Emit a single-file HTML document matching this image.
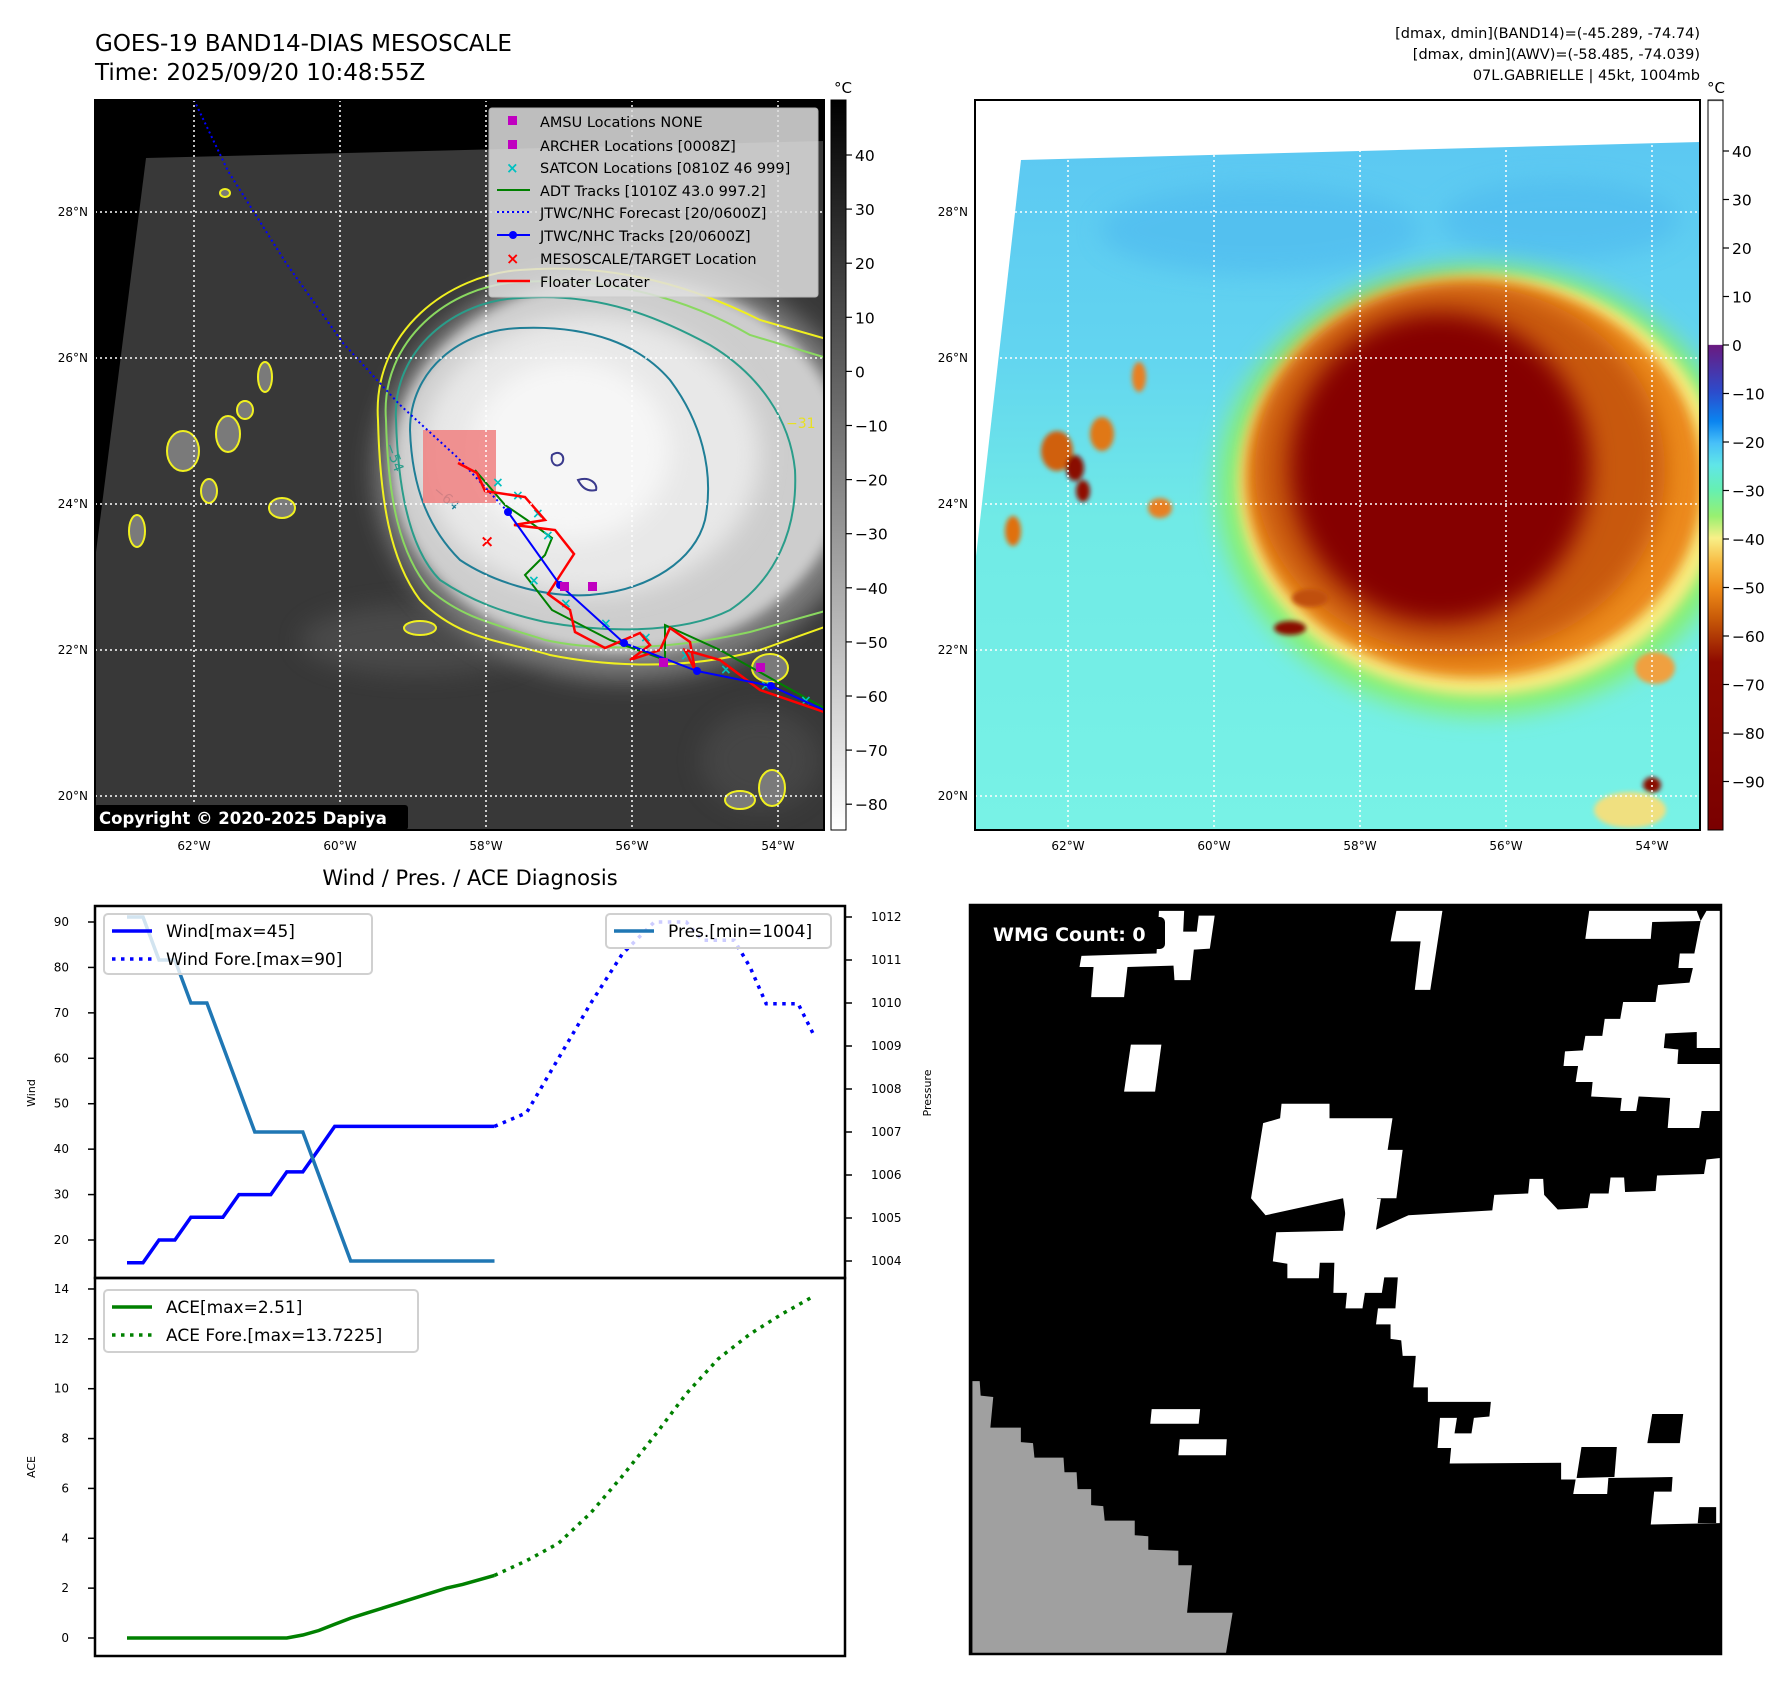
<!DOCTYPE html>
<html><head><meta charset="utf-8"><title>GOES-19 Band14 Diagnosis</title>
<style>
html,body{margin:0;padding:0;background:#fff;}
body{width:1788px;height:1690px;position:relative;overflow:hidden;font-family:"DejaVu Sans","Liberation Sans",sans-serif;}
svg text{font-family:"DejaVu Sans","Liberation Sans",sans-serif;}
</style></head>
<body>
<svg id="page" width="1788" height="1690" viewBox="0 0 1788 1690" xmlns="http://www.w3.org/2000/svg" style="position:absolute;left:0;top:0">
<defs>
<filter id="b6" x="-20%" y="-20%" width="140%" height="140%"><feGaussianBlur stdDeviation="6"/></filter>
<filter id="b12" x="-30%" y="-30%" width="160%" height="160%"><feGaussianBlur stdDeviation="12"/></filter>
<filter id="b3"><feGaussianBlur stdDeviation="2.5"/></filter>
<clipPath id="clipL"><rect x="95" y="100" width="729" height="730"/></clipPath>
<clipPath id="clipR"><rect x="975" y="100" width="725" height="730"/></clipPath>
<linearGradient id="gcbL" x1="0" y1="0" x2="0" y2="1"><stop offset="0" stop-color="#000"/><stop offset="1" stop-color="#fff"/></linearGradient>
<linearGradient id="gcbR" x1="0" y1="0" x2="0" y2="1">
<stop offset="0" stop-color="#000"/><stop offset="0.002" stop-color="#fff"/><stop offset="0.335" stop-color="#fff"/>
<stop offset="0.336" stop-color="#6a1a80"/><stop offset="0.40" stop-color="#2c4ccc"/><stop offset="0.44" stop-color="#0a84f0"/>
<stop offset="0.47" stop-color="#48c0f8"/><stop offset="0.50" stop-color="#60e6e8"/><stop offset="0.535" stop-color="#66f0b0"/>
<stop offset="0.57" stop-color="#98f070"/><stop offset="0.60" stop-color="#f8f088"/><stop offset="0.635" stop-color="#f8b840"/>
<stop offset="0.67" stop-color="#ee8a18"/><stop offset="0.71" stop-color="#c85a08"/><stop offset="0.77" stop-color="#8e0a00"/><stop offset="1" stop-color="#7a0000"/>
</linearGradient>
<linearGradient id="gSea" x1="0" y1="0" x2="0" y2="1"><stop offset="0" stop-color="#5cc8f2"/><stop offset="0.3" stop-color="#62d4f0"/><stop offset="0.55" stop-color="#70eae6"/><stop offset="1" stop-color="#78f2e6"/></linearGradient>
</defs>

<text x="95" y="51" font-size="23">GOES-19 BAND14-DIAS MESOSCALE</text>
<text x="95" y="80" font-size="23">Time: 2025/09/20 10:48:55Z</text>
<g font-size="14.5" text-anchor="end">
<text x="1700" y="38">[dmax, dmin](BAND14)=(-45.289, -74.74)</text>
<text x="1700" y="59">[dmax, dmin](AWV)=(-58.485, -74.039)</text>
<text x="1700" y="80">07L.GABRIELLE | 45kt, 1004mb</text>
</g>

<!-- LEFT MAP -->
<g>
<rect x="95" y="100" width="729" height="730" fill="#000"/>
<g clip-path="url(#clipL)">
<polygon points="146,158 824,141 824,830 95,830 95,560" fill="#383838"/>
<g filter="url(#b12)" opacity="0.45">
<ellipse cx="420" cy="640" rx="120" ry="35" fill="#5e5e5e"/>
<ellipse cx="760" cy="760" rx="60" ry="50" fill="#555"/>
</g>
<ellipse cx="625" cy="470" rx="250" ry="210" fill="#7a7a7a" filter="url(#b12)"/>
<ellipse cx="620" cy="465" rx="228" ry="188" fill="#cdcdcd" filter="url(#b6)"/>
<ellipse cx="590" cy="455" rx="170" ry="140" fill="#e8e8e8" filter="url(#b12)"/>
<ellipse cx="570" cy="450" rx="100" ry="90" fill="#f6f6f6" filter="url(#b12)"/>
<g fill="none" stroke-width="2">
<path d="M378,420 C372,330 450,275 520,270 C620,262 700,290 760,320 L900,360 L900,600 L760,650 C680,672 600,665 550,655 C500,640 460,640 420,600 C390,560 380,500 378,420Z" stroke="#f0f020"/>
<path d="M386,420 C380,340 450,285 520,282 C610,276 690,300 750,335 L900,380 L900,590 L750,632 C660,652 590,650 545,640 C500,625 465,620 430,590 C400,555 388,500 386,420Z" stroke="#8ad860"/>
<path d="M396,420 C392,350 455,300 520,298 C600,292 660,318 710,345 C760,375 790,420 795,470 C798,530 775,580 730,610 C680,635 600,632 545,622 C500,612 470,600 440,580 C410,550 398,490 396,420Z" stroke="#2a9d8a"/>
<path d="M410,430 C410,370 460,330 520,328 C590,325 640,345 670,380 C700,420 715,470 705,520 C695,560 650,590 590,595 C540,598 490,580 460,560 C430,530 412,490 410,430Z" stroke="#1f7e96"/>
<path d="M552,455 c8,-6 14,2 10,8 c-6,6 -12,0 -10,-8z M578,480 c12,-4 20,4 18,10 c-8,2 -14,-2 -18,-10z" stroke="#3a3a8c"/>
</g>
<g fill="#7a7a7a" stroke="#f0f020" stroke-width="2">
<ellipse cx="183" cy="451" rx="16" ry="20"/><ellipse cx="228" cy="434" rx="12" ry="18"/><ellipse cx="209" cy="491" rx="8" ry="12"/>
<ellipse cx="265" cy="377" rx="7" ry="15"/><ellipse cx="282" cy="508" rx="13" ry="10"/><ellipse cx="137" cy="531" rx="8" ry="16"/>
<ellipse cx="245" cy="410" rx="8" ry="9"/><ellipse cx="420" cy="628" rx="16" ry="7"/><ellipse cx="770" cy="668" rx="18" ry="14"/>
<ellipse cx="772" cy="788" rx="13" ry="18"/><ellipse cx="740" cy="800" rx="15" ry="9"/><ellipse cx="225" cy="193" rx="5" ry="4"/>
</g>
<g font-size="14" fill="#2a9d8a"><text x="385" y="445" transform="rotate(70 385 445)">−54</text><text x="432" y="492" transform="rotate(40 432 492)" fill="#1f7e96">−64</text></g>
<text x="786" y="428" font-size="14" fill="#e8e020">−31</text>
<rect x="423" y="430" width="73" height="73" fill="#f08080" opacity="0.85"/>
<polyline points="194,100 228,171 286,263 343,343 400,405 457,457 508,512" fill="none" stroke="#0000ff" stroke-width="2" stroke-dasharray="2 3"/>
<polyline points="475,470 505,505 527,520 552,538 545,555 525,575 552,610 610,640 665,660 665,625 720,650 824,708" fill="none" stroke="#008000" stroke-width="2"/>
<g fill="#00c0c0" font-size="14" font-weight="bold">
<text x="492" y="487">×</text><text x="512" y="500">×</text><text x="532" y="518">×</text><text x="542" y="540">×</text><text x="528" y="585">×</text><text x="560" y="608">×</text><text x="600" y="628">×</text><text x="640" y="642">×</text><text x="680" y="660">×</text><text x="720" y="674">×</text><text x="760" y="690">×</text><text x="800" y="705">×</text>
</g>
<polyline points="458,463 477,473 485,491 525,497 545,520 514,525 555,530 574,554 548,594 570,610 575,632 605,648 640,633 650,645 630,660 660,650 670,628 690,642 695,670 685,650 720,660 760,690 824,712" fill="none" stroke="#ff0000" stroke-width="2.5"/>
<polyline points="508,512 560,585 624,643 697,671 771,686 824,710" fill="none" stroke="#0000ff" stroke-width="2"/>
<g fill="#0000ff"><circle cx="508" cy="512" r="4"/><circle cx="560" cy="585" r="4"/><circle cx="624" cy="643" r="4"/><circle cx="697" cy="671" r="4"/><circle cx="771" cy="686" r="4"/></g>
<g fill="#c000c0"><rect x="560" y="582" width="9" height="9"/><rect x="588" y="582" width="9" height="9"/><rect x="659" y="658" width="9" height="9"/><rect x="756" y="663" width="9" height="9"/></g>
<text x="480" y="547" font-size="17" font-weight="bold" fill="#ff0000">×</text>
<g stroke="#fff" stroke-width="1.5" stroke-dasharray="2 3">
<line x1="194" y1="100" x2="194" y2="830"/><line x1="340" y1="100" x2="340" y2="830"/><line x1="486" y1="100" x2="486" y2="830"/><line x1="632" y1="100" x2="632" y2="830"/><line x1="778" y1="100" x2="778" y2="830"/>
<line x1="95" y1="212" x2="824" y2="212"/><line x1="95" y1="358" x2="824" y2="358"/><line x1="95" y1="504" x2="824" y2="504"/><line x1="95" y1="650" x2="824" y2="650"/><line x1="95" y1="796" x2="824" y2="796"/>
</g>
<g>
<rect x="489" y="108" width="329" height="189" rx="3" fill="#e0e0e0" opacity="0.85" stroke="#ccc"/>
<g font-size="14.5">
<rect x="508" y="116" width="9" height="9" fill="#c000c0"/><text x="540" y="127">AMSU Locations NONE</text>
<rect x="508" y="140" width="9" height="9" fill="#c000c0"/><text x="540" y="151">ARCHER Locations [0008Z]</text>
<text x="506" y="173" fill="#00c0c0" font-weight="bold" font-size="15">×</text><text x="540" y="173">SATCON Locations [0810Z 46 999]</text>
<line x1="497" y1="190" x2="530" y2="190" stroke="#008000" stroke-width="2"/><text x="540" y="196">ADT Tracks [1010Z 43.0 997.2]</text>
<line x1="497" y1="212" x2="530" y2="212" stroke="#0000ff" stroke-width="2" stroke-dasharray="2 3"/><text x="540" y="218">JTWC/NHC Forecast [20/0600Z]</text>
<line x1="497" y1="235" x2="530" y2="235" stroke="#0000ff" stroke-width="2"/><circle cx="513" cy="235" r="4" fill="#0000ff"/><text x="540" y="241">JTWC/NHC Tracks [20/0600Z]</text>
<text x="506" y="264" fill="#ff0000" font-weight="bold" font-size="16">×</text><text x="540" y="264">MESOSCALE/TARGET Location</text>
<line x1="497" y1="281" x2="530" y2="281" stroke="#ff0000" stroke-width="2.5"/><text x="540" y="287">Floater Locater</text>
</g></g>
</g>
<rect x="95" y="100" width="729" height="730" fill="none" stroke="#000" stroke-width="2"/>
<rect x="94" y="805" width="314" height="25" rx="3" fill="#000"/>
<text x="99" y="824" font-size="16.5" font-weight="bold" fill="#fff">Copyright © 2020-2025 Dapiya</text>
</g>
<g font-size="12">
<g text-anchor="middle"><text x="194" y="850">62°W</text><text x="340" y="850">60°W</text><text x="486" y="850">58°W</text><text x="632" y="850">56°W</text><text x="778" y="850">54°W</text></g>
<g text-anchor="end"><text x="88" y="216">28°N</text><text x="88" y="362">26°N</text><text x="88" y="508">24°N</text><text x="88" y="654">22°N</text><text x="88" y="800">20°N</text></g>
</g>
<g>
<text x="843" y="93" font-size="15" text-anchor="middle">°C</text>
<rect x="831" y="100" width="15" height="730" fill="url(#gcbL)" stroke="#000" stroke-width="1"/>
<g id="cbLticks" font-size="15.5"></g>
</g>

<!-- RIGHT MAP -->
<g>
<rect x="975" y="100" width="725" height="730" fill="#fff"/>
<g clip-path="url(#clipR)">
<polygon points="1021,160 1700,142 1700,830 975,830 975,565" fill="url(#gSea)"/>
<g filter="url(#b12)" opacity="0.5"><ellipse cx="1260" cy="230" rx="160" ry="45" fill="#4ab4ee"/><ellipse cx="1560" cy="220" rx="120" ry="40" fill="#4ab4ee"/></g>
<ellipse cx="1480" cy="490" rx="262" ry="225" fill="#88f070" filter="url(#b12)"/>
<ellipse cx="1480" cy="485" rx="242" ry="210" fill="#f8ec80" filter="url(#b6)"/>
<ellipse cx="1475" cy="480" rx="228" ry="198" fill="#ec8a1c" filter="url(#b6)"/>
<ellipse cx="1460" cy="470" rx="205" ry="185" fill="#c8580a" filter="url(#b12)"/>
<ellipse cx="1440" cy="468" rx="150" ry="155" fill="#850200" filter="url(#b12)"/>
<g filter="url(#b3)">
<ellipse cx="1057" cy="451" rx="16" ry="20" fill="#d06010"/><ellipse cx="1075" cy="468" rx="9" ry="13" fill="#8a0a00"/><ellipse cx="1102" cy="434" rx="12" ry="17" fill="#e07818"/>
<ellipse cx="1083" cy="491" rx="7" ry="11" fill="#900c00"/><ellipse cx="1139" cy="377" rx="7" ry="15" fill="#e88020"/><ellipse cx="1160" cy="508" rx="12" ry="10" fill="#e88020"/>
<ellipse cx="1013" cy="531" rx="8" ry="15" fill="#e07010"/><ellipse cx="1290" cy="628" rx="16" ry="7" fill="#8a1000"/><ellipse cx="1310" cy="598" rx="18" ry="9" fill="#c05010"/>
<ellipse cx="1655" cy="668" rx="20" ry="16" fill="#f0a040"/><ellipse cx="1652" cy="785" rx="9" ry="8" fill="#8a0a00"/><ellipse cx="1630" cy="810" rx="36" ry="18" fill="#f0e080"/>
</g>
<g stroke="#fff" stroke-width="1.5" stroke-dasharray="2 3">
<line x1="1068" y1="100" x2="1068" y2="830"/><line x1="1214" y1="100" x2="1214" y2="830"/><line x1="1360" y1="100" x2="1360" y2="830"/><line x1="1506" y1="100" x2="1506" y2="830"/><line x1="1652" y1="100" x2="1652" y2="830"/>
<line x1="975" y1="212" x2="1700" y2="212"/><line x1="975" y1="358" x2="1700" y2="358"/><line x1="975" y1="504" x2="1700" y2="504"/><line x1="975" y1="650" x2="1700" y2="650"/><line x1="975" y1="796" x2="1700" y2="796"/>
</g>
</g>
<rect x="975" y="100" width="725" height="730" fill="none" stroke="#000" stroke-width="2"/>
</g>
<g font-size="12">
<g text-anchor="middle"><text x="1068" y="850">62°W</text><text x="1214" y="850">60°W</text><text x="1360" y="850">58°W</text><text x="1506" y="850">56°W</text><text x="1652" y="850">54°W</text></g>
<g text-anchor="end"><text x="968" y="216">28°N</text><text x="968" y="362">26°N</text><text x="968" y="508">24°N</text><text x="968" y="654">22°N</text><text x="968" y="800">20°N</text></g>
</g>
<g>
<text x="1716" y="93" font-size="15" text-anchor="middle">°C</text>
<rect x="1708" y="100" width="15" height="730" fill="url(#gcbR)" stroke="#000" stroke-width="1"/>
<g id="cbRticks" font-size="15.5"></g>
</g>

<!-- WMG panel -->
<g>
<rect x="970" y="905" width="751" height="749" fill="#000"/>
<svg x="970" y="905" width="751" height="749" viewBox="0 0 1550 1545" preserveAspectRatio="none">
<g fill="#fff">
<polygon points="580,605 605,450 640,440 643,410 742,410 742,440 872,440 862,505 893,505 880,605 840,605 835,640 775,640 770,605 610,640"/>
<polygon points="625,735 632,675 770,672 778,608 848,606 838,670 905,640 1078,630 1082,598 1152,595 1155,565 1183,565 1185,598 1213,628 1275,625 1280,595 1318,595 1322,562 1350,562 1352,592 1415,590 1418,558 1515,555 1520,525 1548,522 1548,1275 1405,1278 1412,1210 1448,1210 1450,1180 1315,1182 1318,1150 990,1152 993,1120 965,1120 970,1058 1005,1058 1000,1090 1035,1090 1040,1058 1072,1055 1075,1025 945,1025 945,995 915,995 920,930 893,930 890,898 868,895 868,865 838,865 842,832 878,832 883,768 855,768 850,800 815,800 810,832 775,832 778,800 750,800 752,738 722,738 720,770 655,770 655,740"/>
<polygon points="1220,1150 1320,1150 1315,1215 1245,1215 1250,1185 1220,1185"/>
<polygon points="250,190 318,190 325,128 420,125 422,155 455,155 462,92 495,90 505,22 472,22 468,55 440,55 442,12 390,12 385,100 230,105 226,128 255,128"/>
<polygon points="318,385 382,385 395,288 332,288"/>
<polygon points="868,75 930,75 918,175 950,175 975,12 880,12"/>
<polygon points="1278,12 1500,12 1508,33 1495,100 1465,100 1462,130 1492,130 1485,160 1420,165 1415,200 1348,200 1342,235 1310,235 1305,270 1270,270 1265,300 1228,302 1225,332 1255,332 1250,365 1285,365 1282,395 1345,398 1342,425 1375,425 1380,395 1445,398 1440,460 1505,460 1510,425 1548,425 1548,328 1460,328 1462,298 1432,295 1435,265 1500,262 1500,295 1548,295 1548,12 1520,12 1508,33 1408,35 1405,70 1270,70"/>
<polygon points="375,1040 475,1040 472,1070 372,1070"/>
<polygon points="433,1102 530,1102 528,1135 430,1135"/>
</g>
<g fill="#000"><polygon points="1262,1118 1335,1118 1330,1180 1252,1182"/><polygon points="1408,1050 1472,1050 1465,1110 1398,1110"/><polygon points="1505,1242 1540,1242 1540,1275 1502,1275"/></g>
<polygon points="5,982 20,982 22,1012 48,1015 42,1078 105,1078 105,1108 130,1110 133,1140 193,1140 195,1170 220,1170 222,1205 250,1205 250,1238 275,1240 278,1270 340,1270 340,1300 368,1302 368,1330 430,1332 430,1362 458,1362 448,1460 542,1460 528,1545 5,1545" fill="#a0a0a0"/>
</svg>
<rect x="970" y="905" width="751" height="749" fill="none" stroke="#000" stroke-width="2.5"/>
<rect x="985" y="917" width="180" height="32" rx="5" fill="#000"/>
<text x="993" y="941" font-size="19" font-weight="bold" fill="#fff">WMG Count: 0</text>
</g>

<text x="470" y="885" font-size="21" text-anchor="middle">Wind / Pres. / ACE Diagnosis</text>
<g id="chart"></g>
</svg>

<script>
const obsIdx = [0,1,2,3,4,5,6,7,8,9,10,11,12,13,14,15,16,17,18,19,20,21,22,23];
const obsWind = [15,15,20,20,25,25,25,30,30,30,35,35,40,45,45,45,45,45,45,45,45,45,45,45];
const obsPres = [1012,1012,1011,1011,1010,1010,1009,1008,1007,1007,1007,1007,1006,1005,1004,1004,1004,1004,1004,1004,1004,1004,1004,1004];
const obsAce = [0,0,0,0,0,0,0,0,0,0,0,0.12,0.3,0.55,0.8,1.0,1.2,1.4,1.6,1.8,2.0,2.15,2.33,2.51];
const fcIdx = [23,25,27,29,31,33,35,36,38,39,40,42,43];
const fcWind = [45,48,60,72,83,90,90,86,86,80,72,72,65];
const fcAceIdx = [23,25,27,29,31,33,35,37,39,41,43];
const fcAce = [2.51,3.1,3.8,5.0,6.5,8.1,9.8,11.2,12.2,13.0,13.72];
const windTicks = [20,30,40,50,60,70,80,90];
const presTicks = [1004,1005,1006,1007,1008,1009,1010,1011,1012];
const aceTicks = [0,2,4,6,8,10,12,14];
const cbLTicks = [40,30,20,10,0,-10,-20,-30,-40,-50,-60,-70,-80];
const cbRTicks = [40,30,20,10,0,-10,-20,-30,-40,-50,-60,-70,-80,-90];

const X0=95, X1=845, TOP=906, MID=1278, BOT=1656;
const xS = i => 127 + i*15.98;
const yW = v => 922 + (90-v)*4.543;
const yP = p => 1261 - (p-1004)*43;
const yA = a => 1638 - a*24.93;
const NS='http://www.w3.org/2000/svg';
function mk(tag, attrs, parent){const e=document.createElementNS(NS,tag);for(const k in attrs)e.setAttribute(k,attrs[k]);parent.appendChild(e);return e;}
const chart=document.getElementById('chart');
function line(idx, vals, yf, attrs, name){
  const pts=idx.map((i,k)=>xS(i).toFixed(1)+','+yf(vals[k]).toFixed(1)).join(' ');
  const p=mk('polyline',Object.assign({points:pts,fill:'none'},attrs),chart);
  
  
  return p;
}
const fr1=mk('rect',{x:X0,y:TOP,width:X1-X0,height:MID-TOP,fill:'none',stroke:'#000','stroke-width':2.5},chart);


const fr2=mk('rect',{x:X0,y:MID,width:X1-X0,height:BOT-MID,fill:'none',stroke:'#000','stroke-width':2.5},chart);


windTicks.forEach(v=>{const y=yW(v);mk('line',{x1:X0-7,x2:X0,y1:y,y2:y,stroke:'#000','stroke-width':1.5},chart);
  const t=mk('text',{x:X0-26,y:y+4,'font-size':12,'text-anchor':'end'},chart);t.textContent=v;
  
  });
presTicks.forEach(v=>{const y=yP(v);mk('line',{x1:X1,x2:X1+7,y1:y,y2:y,stroke:'#000','stroke-width':1.5},chart);
  const t=mk('text',{x:X1+26,y:y+4,'font-size':12},chart);t.textContent=v;
  
  });
aceTicks.forEach(v=>{const y=yA(v);mk('line',{x1:X0-7,x2:X0,y1:y,y2:y,stroke:'#000','stroke-width':1.5},chart);
  const t=mk('text',{x:X0-26,y:y+4,'font-size':12,'text-anchor':'end'},chart);t.textContent=v;
  
  });
const at1=mk('text',{x:0,y:0,'font-size':11,'text-anchor':'middle',transform:'translate(35,1093) rotate(-90)'},chart);at1.textContent='Wind';


const at2=mk('text',{x:0,y:0,'font-size':11,'text-anchor':'middle',transform:'translate(931,1093) rotate(-90)'},chart);at2.textContent='Pressure';


const at3=mk('text',{x:0,y:0,'font-size':11,'text-anchor':'middle',transform:'translate(35,1467) rotate(-90)'},chart);at3.textContent='ACE';


line(obsIdx, obsWind, yW, {stroke:'#0000ff','stroke-width':3.5,'stroke-linejoin':'miter'}, 'wind-line');
line(fcIdx, fcWind, yW, {stroke:'#0000ff','stroke-width':3.5,'stroke-dasharray':'3.5 5.5'}, 'wind-forecast-line');
line(obsIdx, obsPres, yP, {stroke:'#1f77b4','stroke-width':3.5}, 'pressure-line');
line(obsIdx, obsAce, yA, {stroke:'#008000','stroke-width':3.5}, 'ace-line');
line(fcAceIdx, fcAce, yA, {stroke:'#008000','stroke-width':3.5,'stroke-dasharray':'3.5 5.5'}, 'ace-forecast-line');
function legend(x,y,w,h,items,name){
  const g=mk('g',{},chart);
  
  
  mk('rect',{x:x,y:y,width:w,height:h,rx:4,fill:'#fff','fill-opacity':0.8,stroke:'#d0d0d0','stroke-width':2},g);
  items.forEach((it,k)=>{const yy=y+17+k*28;
    mk('line',{x1:x+8,x2:x+48,y1:yy,y2:yy,stroke:it.c,'stroke-width':3.5,'stroke-dasharray':it.d||'none'},g);
    const t=mk('text',{x:x+62,y:yy+6,'font-size':17},g);t.textContent=it.t;});
}
legend(104,914,268,60,[{c:'#0000ff',t:'Wind[max=45]'},{c:'#0000ff',t:'Wind Fore.[max=90]',d:'3.5 5.5'}],'wind-legend');
legend(606,914,225,34,[{c:'#1f77b4',t:'Pres.[min=1004]'}],'pressure-legend');
legend(104,1290,314,62,[{c:'#008000',t:'ACE[max=2.51]'},{c:'#008000',t:'ACE Fore.[max=13.7225]',d:'3.5 5.5'}],'ace-legend');

const gL=document.getElementById('cbLticks');
cbLTicks.forEach(v=>{const y=155+(40-v)*5.41;mk('line',{x1:846,x2:852,y1:y,y2:y,stroke:'#000','stroke-width':1.2},gL);
  const t=mk('text',{x:855,y:y+6},gL);t.textContent=(v<0?'−'+(-v):v);
  
  });
const gR=document.getElementById('cbRticks');
cbRTicks.forEach(v=>{const y=151+(40-v)*4.85;mk('line',{x1:1723,x2:1729,y1:y,y2:y,stroke:'#000','stroke-width':1.2},gR);
  const t=mk('text',{x:1732,y:y+6},gR);t.textContent=(v<0?'−'+(-v):v);
  
  });
</script>
</body></html>
